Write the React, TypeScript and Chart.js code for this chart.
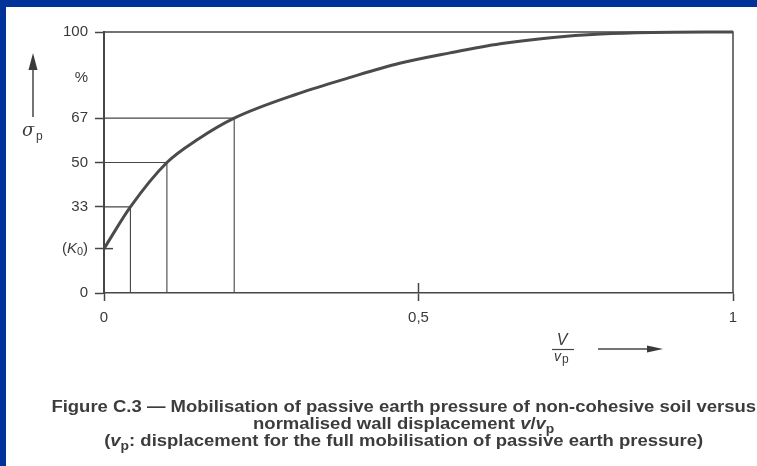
import React, { useEffect, useRef } from "react";
import { Chart, registerables } from "chart.js";

Chart.register(...registerables);

// ---- data ----
const curveX = [0, 0.042, 0.1, 0.15, 0.207, 0.31, 0.39, 0.47, 0.55, 0.63, 0.71, 0.79, 0.87, 1];
const curveY = [17, 33, 50, 59, 67, 76.5, 82.5, 88, 92, 95.5, 97.8, 99.2, 99.8, 100];
const guideX = [0.042, 0.1, 0.207];
const guideY = [33, 50, 67];
const k0Value = 17;
const percentLabelValue = 82.5;
const yTickValues = [0, 17, 33, 50, 67, 100];
const yTickLabels = ["0", "", "33", "50", "67", "100"];
const xTickValues = [0, 0.5, 1];
const xTickLabels = ["0", "0,5", "1"];
const xMin = 0;
const xMax = 1;
const yMin = 0;
const yMax = 100;

type Seg = { t: string; italic?: boolean; sub?: boolean };
const captionLines: Seg[][] = [
  [{ t: "Figure C.3 \u2014 Mobilisation of passive earth pressure of non-cohesive soil versus" }],
  [{ t: "normalised wall displacement " }, { t: "v", italic: true }, { t: "/" }, { t: "v", italic: true }, { t: "p", sub: true }],
  [{ t: "(" }, { t: "v", italic: true }, { t: "p", sub: true }, { t: ": displacement for the full mobilisation of passive earth pressure)" }],
];

const INK = "#3a3a3a";
const LINE = "#464646";
const TICK_FONT = '"Liberation Sans", Arial, sans-serif';

function arrow(ctx: CanvasRenderingContext2D, x1: number, y1: number, x2: number, y2: number, head: number, half: number) {
  const a = Math.atan2(y2 - y1, x2 - x1);
  ctx.beginPath();
  ctx.moveTo(x1, y1);
  ctx.lineTo(x2 - Math.cos(a) * head * 0.6, y2 - Math.sin(a) * head * 0.6);
  ctx.stroke();
  ctx.beginPath();
  ctx.moveTo(x2, y2);
  ctx.lineTo(x2 - Math.cos(a) * head - Math.sin(a) * half, y2 - Math.sin(a) * head + Math.cos(a) * half);
  ctx.lineTo(x2 - Math.cos(a) * head + Math.sin(a) * half, y2 - Math.sin(a) * head - Math.cos(a) * half);
  ctx.closePath();
  ctx.fill();
}

function segFont(s: Seg, size: number, weight: string, family: string) {
  const sz = s.sub ? Math.round(size * 0.72) : size;
  return `${s.italic ? "italic " : ""}${weight} ${sz}px ${family}`;
}

function segWidth(ctx: CanvasRenderingContext2D, segs: Seg[], size: number, weight: string, family: string) {
  let w = 0;
  for (const s of segs) {
    ctx.font = segFont(s, size, weight, family);
    w += ctx.measureText(s.t).width;
  }
  return w;
}

function drawSegs(ctx: CanvasRenderingContext2D, segs: Seg[], x: number, y: number, size: number, weight: string, family: string) {
  let cx = x;
  for (const s of segs) {
    ctx.font = segFont(s, size, weight, family);
    ctx.fillText(s.t, cx, s.sub ? y + size * 0.22 : y);
    cx += ctx.measureText(s.t).width;
  }
}

const annotations = {
  id: "annotations",
  afterDraw(chart: any) {
    const ctx: CanvasRenderingContext2D = chart.ctx;
    const xs = chart.scales.x;
    const ys = chart.scales.y;
    const x0 = xs.getPixelForValue(xMin);
    const yBase = ys.getPixelForValue(yMin);
    ctx.save();
    ctx.strokeStyle = LINE;
    ctx.fillStyle = INK;
    ctx.lineWidth = 1.5;

    // K0 tick crossing the axis
    const yk = ys.getPixelForValue(k0Value);
    ctx.beginPath();
    ctx.moveTo(x0, yk);
    ctx.lineTo(x0 + 9, yk);
    ctx.stroke();
    // 0,5 tick crossing the axis
    const xh = xs.getPixelForValue(0.5);
    ctx.beginPath();
    ctx.moveTo(xh, yBase);
    ctx.lineTo(xh, yBase - 10);
    ctx.stroke();

    // (K0) label
    ctx.textBaseline = "middle";
    const k0Segs: Seg[] = [{ t: "(" }, { t: "K", italic: true }, { t: "0", sub: true }, { t: ")" }];
    const kw = segWidth(ctx, k0Segs, 15, "normal", TICK_FONT);
    ctx.textAlign = "left";
    drawSegs(ctx, k0Segs, 88 - kw, yk, 15, "normal", TICK_FONT);

    // %
    ctx.font = `15px ${TICK_FONT}`;
    ctx.textAlign = "right";
    ctx.fillText("%", 88, ys.getPixelForValue(percentLabelValue));

    // sigma_p with up arrow
    ctx.textAlign = "left";
    ctx.textBaseline = "alphabetic";
    ctx.font = `italic 18px "DejaVu Serif", serif`;
    ctx.fillText("\u03c3", 22, 136);
    ctx.font = `12px ${TICK_FONT}`;
    ctx.fillText("p", 36, 140);
    ctx.lineWidth = 1.5;
    arrow(ctx, 33, 117, 33, 53, 17, 4.5);

    // v / vp with right arrow
    ctx.textAlign = "center";
    ctx.font = `italic 16px ${TICK_FONT}`;
    ctx.fillText("V", 562, 345);
    ctx.lineWidth = 1.2;
    ctx.beginPath();
    ctx.moveTo(552, 349.5);
    ctx.lineTo(574, 349.5);
    ctx.stroke();
    ctx.textAlign = "left";
    ctx.font = `italic 14px ${TICK_FONT}`;
    ctx.fillText("v", 554, 361);
    ctx.font = `12px ${TICK_FONT}`;
    ctx.fillText("p", 562, 363);
    ctx.lineWidth = 1.5;
    arrow(ctx, 598, 349, 663, 349, 16, 3.5);

    // caption
    const fam = '"Liberation Sans", Arial, sans-serif';
    const size = 16;
    const total = segWidth(ctx, captionLines[0], size, "bold", fam);
    ctx.font = `bold ${size}px ${fam}`;
    const wf = ctx.measureText("Figure ").width;
    const sc = (756 - 113) / (total - wf);
    const start = 113 - sc * wf;
    const center = start + (sc * total) / 2;
    const baselines = [412, 429, 446];
    ctx.fillStyle = "#3c3c3c";
    ctx.textAlign = "left";
    captionLines.forEach((segs, i) => {
      const w = segWidth(ctx, segs, size, "bold", fam) * sc;
      ctx.save();
      ctx.translate(center - w / 2, baselines[i]);
      ctx.scale(sc, 1);
      drawSegs(ctx, segs, 0, 0, size, "bold", fam);
      ctx.restore();
    });
    ctx.restore();
  },
};

export default function App() {
  const ref = useRef<HTMLCanvasElement | null>(null);
  useEffect(() => {
    document.body.style.margin = "0";
    const canvas = ref.current!;
    const lineDs = (data: { x: number; y: number }[], width: number, color: string) => ({
      data,
      showLine: true,
      borderColor: color,
      borderWidth: width,
      pointRadius: 0,
      tension: 0,
      fill: false,
      clip: false as any,
    });
    const datasets: any[] = [
      {
        ...lineDs(curveX.map((x, i) => ({ x, y: curveY[i] })), 3, "#4b4b4b"),
        cubicInterpolationMode: "monotone",
      },
      lineDs(
        [
          { x: xMin, y: yMax },
          { x: xMax, y: yMax },
          { x: xMax, y: yMin },
        ],
        1.5,
        LINE
      ),
      ...guideX.map((gx, i) =>
        lineDs(
          [
            { x: xMin, y: guideY[i] },
            { x: gx, y: guideY[i] },
            { x: gx, y: yMin },
          ],
          1.1,
          LINE
        )
      ),
    ];
    const chart = new Chart(canvas, {
      type: "scatter",
      data: { datasets },
      plugins: [annotations],
      options: {
        responsive: false,
        animation: false,
        devicePixelRatio: 1,
        layout: { padding: { top: 32, right: 24, left: 0, bottom: 0 } },
        plugins: { legend: { display: false }, tooltip: { enabled: false } },
        scales: {
          x: {
            type: "linear",
            min: xMin,
            max: xMax,
            afterBuildTicks: (s: any) => {
              s.ticks = xTickValues.map((v) => ({ value: v }));
            },
            afterFit: (s: any) => {
              s.height = 173;
            },
            grid: { drawOnChartArea: false, drawTicks: true, tickLength: 8, tickColor: LINE, tickWidth: 1.5 },
            border: { display: true, color: LINE, width: 1.5 },
            ticks: {
              autoSkip: false,
              maxRotation: 0,
              padding: 8,
              color: INK,
              font: { family: TICK_FONT, size: 15 },
              callback: (v: any) => xTickLabels[xTickValues.indexOf(Number(v))] ?? "",
            },
          },
          y: {
            type: "linear",
            min: yMin,
            max: yMax,
            afterBuildTicks: (s: any) => {
              s.ticks = yTickValues.map((v) => ({ value: v }));
            },
            afterFit: (s: any) => {
              s.width = 104;
            },
            grid: { drawOnChartArea: false, drawTicks: true, tickLength: 9, tickColor: LINE, tickWidth: 1.5 },
            border: { display: true, color: LINE, width: 2 },
            ticks: {
              autoSkip: false,
              padding: 7,
              color: INK,
              font: { family: TICK_FONT, size: 15 },
              callback: (v: any) => yTickLabels[yTickValues.indexOf(Number(v))] ?? "",
            },
          },
        },
      } as any,
    });
    return () => chart.destroy();
  }, []);

  return (
    <div style={{ position: "fixed", left: 0, top: 0, width: 757, height: 466, background: "#003399", overflow: "hidden" }}>
      <div style={{ position: "absolute", left: 6, top: 7, right: 0, bottom: 0, background: "#ffffff" }} />
      <canvas ref={ref} width={757} height={466} style={{ position: "absolute", left: 0, top: 0, width: 757, height: 466 }} />
    </div>
  );
}
